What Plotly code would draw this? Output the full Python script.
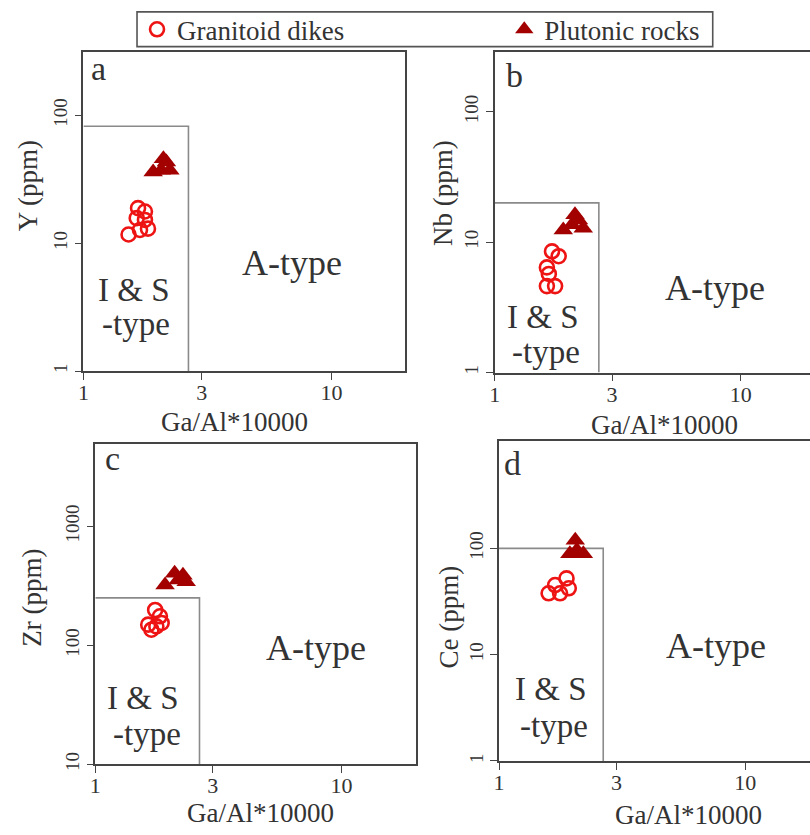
import numpy as np
import plotly.graph_objects as go

W, H = 810, 835
FONT = "Liberation Serif"
TXT = "#333333"
AXC = "#444444"
BOXC = "#8a8a8a"
DIKE_C = "#ee1414"
PLUT_C = "#a30000"

# ---- data: 10000*Ga/Al versus trace elements (ppm) ----
# Granitoid dikes
dikes_gaal_y = [1.52, 1.66, 1.77, 1.64, 1.77, 1.82, 1.69]
dikes_y = [11.7, 18.8, 17.7, 15.7, 15.2, 13.0, 12.7]
dikes_gaal_nb = [1.71, 1.82, 1.63, 1.66, 1.63, 1.76]
dikes_nb = [8.5, 7.8, 6.4, 5.7, 4.6, 4.6]
dikes_gaal_zr = [1.75, 1.83, 1.64, 1.77, 1.69, 1.86]
dikes_zr = [198, 175, 149, 144, 135, 154]
dikes_gaal_ce = [1.59, 1.69, 1.77, 1.88, 1.92]
dikes_ce = [37.8, 45.2, 37.8, 52.2, 42.1]

# Plutonic rocks
plut_gaal_y = [1.91, 2.06, 2.16, 2.23, 2.10]
plut_y = [36.1, 37.2, 43.2, 37.2, 45.8]
plut_gaal_nb = [1.90, 2.06, 2.19, 2.29, 2.12]
plut_nb = [12.4, 13.6, 14.8, 12.8, 16.2]
plut_gaal_zr = [1.92, 2.17, 2.27, 2.34, 2.10]
plut_zr = [321, 353, 388, 341, 403]
plut_gaal_ce = [2.04, 1.94, 2.20, 2.07]
plut_ce = [119, 89, 89, 96]

# I & S-type field limits
is_gaal_limit = 2.65
is_y_limit = 82
is_nb_limit = 20
is_zr_limit = 250
is_ce_limit = 100

x_ticks = [1, 3, 10]
x_ticklabels = ["1", "3", "10"]

panels = [
    dict(key="a", ylabel="Y (ppm)", xd=dikes_gaal_y, yd=dikes_y, xp=plut_gaal_y, yp=plut_y,
         ylim=is_y_limit, yticks=[1, 10, 100], pxx=(78, 402), pxy=(52, 374.3),
         xr=[0, 1.296], yr=[0, 2.498], right=True),
    dict(key="b", ylabel="Nb (ppm)", xd=dikes_gaal_nb, yd=dikes_nb, xp=plut_gaal_nb, yp=plut_nb,
         ylim=is_nb_limit, yticks=[1, 10, 100], pxx=(492.3, 810), pxy=(52.7, 375.7),
         xr=[0, 1.281], yr=[0, 2.456], right=False),
    dict(key="c", ylabel="Zr (ppm)", xd=dikes_gaal_zr, yd=dikes_zr, xp=plut_gaal_zr, yp=plut_zr,
         ylim=is_zr_limit, yticks=[10, 100, 1000], pxx=(90, 413.3), pxy=(447.3, 770.7),
         xr=[0, 1.304], yr=[1, 3.695], right=True),
    dict(key="d", ylabel="Ce (ppm)", xd=dikes_gaal_ce, yd=dikes_ce, xp=plut_gaal_ce, yp=plut_ce,
         ylim=is_ce_limit, yticks=[1, 10, 100], pxx=(496.7, 810), pxy=(444.3, 767.4),
         xr=[0, 1.263], yr=[0, 3.014], right=False),
]

# text placement (pixel centres) for each panel
labels = {
    "a": dict(tag=(84, 69), xt=(230, 426), yt=(23, 187), is1=(129, 292), is2=(131, 327), at=(288, 265)),
    "b": dict(tag=(502, 76), xt=(663, 429), yt=(441, 195), is1=(541, 320), is2=(544, 355), at=(714, 290)),
    "c": dict(tag=(98, 462), xt=(256, 820), yt=(26, 603), is1=(138, 704), is2=(142, 740), at=(312, 653)),
    "d": dict(tag=(500, 467), xt=(688, 822), yt=(446, 622), is1=(549, 695), is2=(552, 732), at=(715, 651)),
}


def px(x):
    return x / W


def py(y):
    return 1 - y / H


fig = go.Figure()
annotations = []
layout = {}

for i, p in enumerate(panels):
    n = "" if i == 0 else str(i + 1)
    xa, ya = "x" + n, "y" + n
    first = i == 0

    # I & S-type field outline
    fig.add_trace(go.Scatter(
        x=[1, is_gaal_limit, is_gaal_limit], y=[p["ylim"], p["ylim"], p["yticks"][0]],
        mode="lines", line=dict(color=BOXC, width=1.6), xaxis=xa, yaxis=ya,
        showlegend=False, hoverinfo="skip"))

    fig.add_trace(go.Scatter(
        x=p["xd"], y=p["yd"], mode="markers", name="Granitoid dikes",
        marker=dict(symbol="circle-open", size=14, color=DIKE_C, line=dict(width=2.6)),
        xaxis=xa, yaxis=ya, showlegend=first, legend="legend"))
    fig.add_trace(go.Scatter(
        x=p["xp"], y=p["yp"], mode="markers", name="Plutonic rocks",
        marker=dict(symbol="triangle-up", size=17, color=PLUT_C, line=dict(width=0)),
        xaxis=xa, yaxis=ya, showlegend=first, legend="legend2"))

    layout["xaxis" + n] = dict(
        type="log", range=p["xr"], domain=[px(p["pxx"][0]), px(p["pxx"][1])],
        anchor=ya, tickvals=x_ticks, ticktext=x_ticklabels,
        showline=True, linecolor=AXC, linewidth=1.6, mirror=True,
        ticks="outside", ticklen=7, tickwidth=1.4, tickcolor=AXC,
        showgrid=False, zeroline=False, ticklabelstandoff=-6,
        tickfont=dict(family=FONT, size=22, color=TXT))
    layout["yaxis" + n] = dict(
        type="log", range=p["yr"], domain=[py(p["pxy"][1]), py(p["pxy"][0])],
        anchor=xa, tickvals=p["yticks"], ticktext=[str(v) for v in p["yticks"]],
        showline=True, linecolor=AXC, linewidth=1.6, mirror=p["right"],
        ticks="outside", ticklen=7, tickwidth=1.4, tickcolor=AXC,
        showgrid=False, zeroline=False, tickangle=-90,
        tickfont=dict(family=FONT, size=19, color=TXT))

    lb = labels[p["key"]]
    annotations += [
        dict(text=p["key"], x=px(lb["tag"][0]), y=py(lb["tag"][1]), xanchor="left", yanchor="middle",
             font=dict(size=34)),
        dict(text="Ga/Al*10000", x=px(lb["xt"][0]), y=py(lb["xt"][1]), font=dict(size=27)),
        dict(text=p["ylabel"], x=px(lb["yt"][0]), y=py(lb["yt"][1]), textangle=-90, font=dict(size=27)),
        dict(text="I &amp; S", x=px(lb["is1"][0]), y=py(lb["is1"][1]), font=dict(size=33)),
        dict(text="-type", x=px(lb["is2"][0]), y=py(lb["is2"][1]), font=dict(size=33)),
        dict(text="A-type", x=px(lb["at"][0]), y=py(lb["at"][1]), font=dict(size=36)),
    ]

for a in annotations:
    a.setdefault("xanchor", "center")
    a.setdefault("yanchor", "middle")
    a["xref"] = "paper"
    a["yref"] = "paper"
    a["showarrow"] = False
    f = a["font"]
    f["family"] = FONT
    f["color"] = TXT

legend_common = dict(orientation="h", xanchor="left", yanchor="middle", y=py(30),
                     bgcolor="rgba(0,0,0,0)", borderwidth=0,
                     font=dict(family=FONT, size=27, color=TXT))

fig.update_layout(
    width=W, height=H,
    margin=dict(l=0, r=0, t=0, b=0),
    paper_bgcolor="white", plot_bgcolor="white",
    font=dict(family=FONT, color=TXT),
    annotations=annotations,
    legend=dict(x=px(132), **legend_common),
    legend2=dict(x=px(502), **legend_common),
    shapes=[dict(type="rect", xref="paper", yref="paper",
                 x0=px(132), x1=px(712), y0=py(47), y1=py(12),
                 line=dict(color="#555555", width=1.6))],
    **layout,
)

fig.write_html("out.html")
